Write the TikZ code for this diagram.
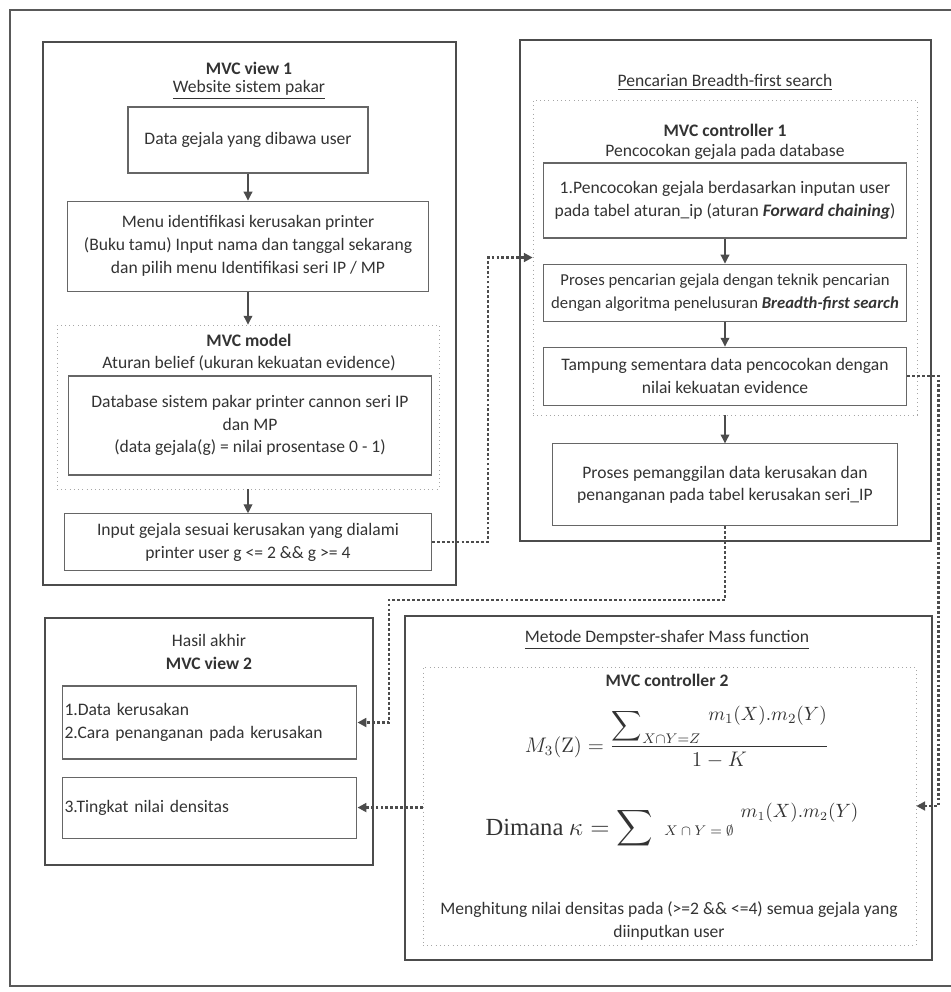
\documentclass[tikz,border=0pt]{standalone}
\usepackage{amsmath}
\usepackage[no-math]{fontspec}
\setmainfont{Carlito}
\newfontfamily\timesfont{Liberation Serif}
\usepackage{xcolor}
\usepackage{tikz}
\usetikzlibrary{arrows.meta,positioning}

\begin{document}
\fontsize{10}{13}\selectfont
\begin{tikzpicture}[x=0.02cm,y=-0.02cm,text=black!80, frame/.style={draw=black!65,line width=1.4pt}, panel/.style={draw=black!70,line width=1.3pt}, group/.style={draw=black!35,dotted,thin}, proc/.style={draw=black!60,line width=0.6pt,align=center,inner sep=0pt}, flow/.style={-{Triangle[length=5pt,width=5pt]},draw=black!70,line width=0.6pt}, link/.style={-{Triangle[length=5pt,width=5pt]},draw=black!70,line width=1.3pt,dash pattern=on 1.6pt off 1.2pt}]
\useasboundingbox (0,0) rectangle (951,992);
\draw[frame] (951,10) -- (10,10) -- (10,986) -- (951,986);
\node[panel,minimum width=8.26cm,minimum height=10.86cm] (view1) at (249.5,313.5) {};
\node[panel,minimum width=8.22cm,minimum height=10.02cm] (search) at (725.5,290.5) {};
\node[panel,minimum width=6.56cm,minimum height=4.94cm] (view2) at (209,741.5) {};
\node[panel,minimum width=10.54cm,minimum height=6.88cm] (dempster) at (668.5,788) {};
\node[font=\bfseries] (v1title) at (249,68) {MVC view 1};
\node (v1sub) at (249,90) {\underline{Website sistem pakar}};
\node[proc,minimum width=4.8cm,minimum height=1.32cm] (carry) at (248,140) {Data gejala yang dibawa user};
\node[proc,minimum width=7.24cm,minimum height=1.8cm,below=0.54cm of carry] (menu) {Menu identifikasi kerusakan printer\\(Buku tamu) Input nama dan tanggal sekarang\\dan pilih menu Identifikasi seri IP / MP};
\node[group,minimum width=7.64cm,minimum height=3.28cm,below=0.66cm of menu] (model) {};
\node[font=\bfseries] (modeltitle) at (249,340) {MVC model};
\node (modelsub) at (249,363) {Aturan belief (ukuran kekuatan evidence)};
\node[proc,minimum width=7.28cm,minimum height=1.98cm] (database) at (250,425.5) {Database sistem pakar printer cannon seri IP\\dan MP\\(data gejala(g) = nilai prosentase 0 - 1)};
\node[proc,minimum width=7.34cm,minimum height=1.14cm,below=0.48cm of model] (input) {Input gejala sesuai kerusakan yang dialami\\printer user g <= 2 \&\& g >= 4};
\node (bfstitle) at (725,82) {\underline{Pencarian Breadth-first search}};
\node[group,minimum width=7.68cm,minimum height=6.3cm] (ctrl1) at (725,257.5) {};
\node[font=\bfseries] (c1title) at (725,130) {MVC controller 1};
\node (c1sub) at (725,152) {Pencocokan gejala pada database};
\node[proc,minimum width=7.28cm,minimum height=1.5cm] (match) at (725,200.5) {1.Pencocokan gejala berdasarkan inputan user\\pada tabel aturan\_ip (aturan \textbf{\itshape Forward chaining})};
\node[proc,minimum width=7.28cm,minimum height=1.14cm,font=\fontsize{9.5}{13}\selectfont,below=0.5cm of match] (bfs) {Proses pencarian gejala dengan teknik pencarian\\dengan algoritma penelusuran \textbf{\itshape Breadth-first search}};
\node[proc,minimum width=7.28cm,minimum height=1.16cm,below=0.5cm of bfs] (store) {Tampung sementara data pencocokan dengan\\nilai kekuatan evidence};
\node[proc,minimum width=6.92cm,minimum height=1.64cm,below=0.56cm of ctrl1] (fetch) {Proses pemanggilan data kerusakan dan\\penanganan pada tabel kerusakan seri\_IP};
\node (restitle) at (209,640) {Hasil akhir};
\node[font=\bfseries] (v2title) at (209,663) {MVC view 2};
\node[proc,minimum width=5.9cm,minimum height=1.46cm,text width=5.8cm,align=left] (damage) at (209.5,722.5) {1.Data kerusakan\\2.Cara penanganan pada kerusakan};
\node[proc,minimum width=5.9cm,minimum height=1.22cm,text width=5.8cm,align=left,below=0.34cm of damage] (density) {3.Tingkat nilai densitas};
\node (dstitle) at (667,640) {\underline{Metode Dempster-shafer Mass function}};
\node[group,minimum width=9.86cm,minimum height=5.56cm] (ctrl2) at (669.5,806) {};
\node[font=\bfseries] (c2title) at (667,680) {MVC controller 2};
\node[font=\fontsize{12}{14}\selectfont,anchor=base] (mass) at (677,752) {$M_3(\mathrm{Z}) = \dfrac{\displaystyle\sum\nolimits_{X\cap Y=Z}\,\raisebox{1.1ex}{\fontsize{11}{13}\selectfont$m_1(X).m_2(Y)$}}{1-K}$};
\node[font=\fontsize{14}{16}\selectfont,anchor=base] (kappa) at (672,835) {{\timesfont Dimana} $\kappa = \displaystyle\sum\;\mbox{\fontsize{8.5}{10}\selectfont$X\cap Y=\emptyset$}\;\raisebox{1.5ex}{\fontsize{10.5}{12}\selectfont$m_1(X).m_2(Y)$}$};
\node[align=center] (dsnote) at (669,921) {Menghitung nilai densitas pada (>=2 \&\& <=4) semua gejala yang\\diinputkan user};
\coordinate (drop) at (389,600);
\draw[flow] (carry.south) -- (carry.south |- menu.north);
\draw[flow] (menu.south) -- (menu.south |- model.north);
\draw[flow] (model.south) -- (model.south |- input.north);
\draw[flow] (match.south) -- (match.south |- bfs.north);
\draw[flow] (bfs.south) -- (bfs.south |- store.north);
\draw[flow] (ctrl1.south) -- (ctrl1.south |- fetch.north);
\draw[link] (input.east) -- ++(56,0) |- (ctrl1.west);
\draw[link] (store.east) -- ++(31,0) |- (ctrl2.east);
\draw[link] (fetch.south) |- (drop) |- (damage.east);
\draw[link] (ctrl2.west |- density.east) -- (density.east);
\end{tikzpicture}
\end{document}
